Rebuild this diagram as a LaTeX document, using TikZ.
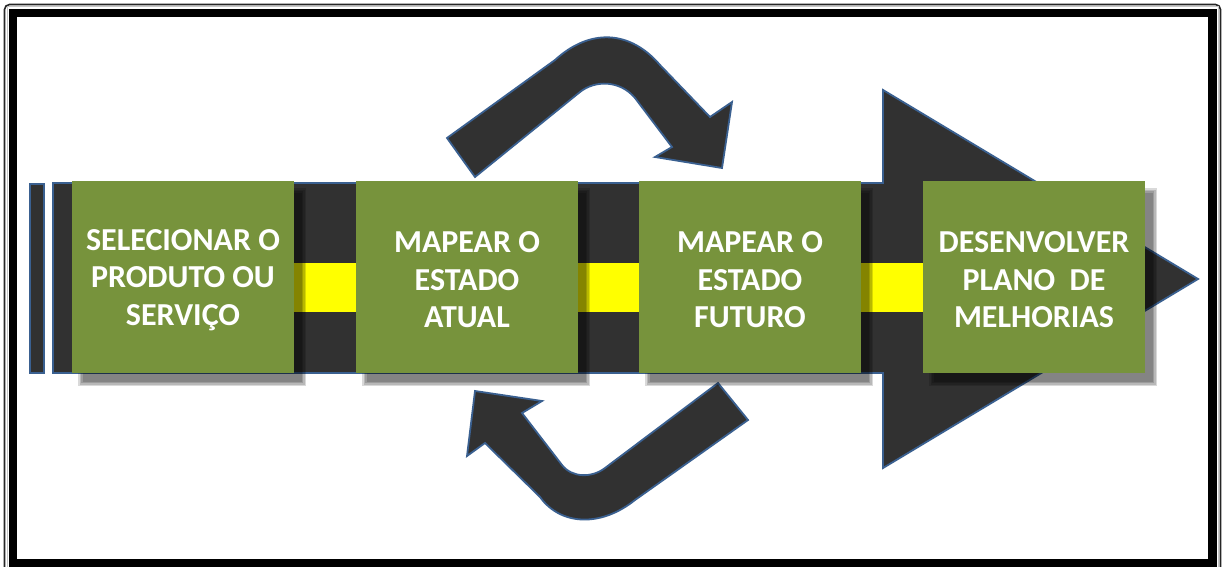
\documentclass[tikz,border=0pt]{standalone}
\usepackage{fontspec}
\setmainfont{Carlito}
\definecolor{boxgreen}{HTML}{77933C}
\definecolor{darkfill}{HTML}{313131}
\definecolor{edgeblue}{HTML}{3A6090}
\definecolor{stripe}{HTML}{FFFF00}
\begin{document}
\begin{tikzpicture}[x=1pt,y=-1pt,
  boxstyle/.style={fill=boxgreen, minimum width=222pt, minimum height=192pt, inner sep=0pt},
  labelstyle/.style={inner sep=0pt, text=white, font=\bfseries\fontsize{32}{37.5}\selectfont, align=center},
  darkshape/.style={fill=darkfill, draw=edgeblue, line width=1.8pt, line join=miter},
]
\useasboundingbox (0,0) rectangle (1223,567);
\clip (0,0) rectangle (1223,567);
\fill[white] (0,0) rectangle (1223,567);
% frame
\draw[line width=1.6pt, rounded corners=5pt, black!85] (4.5,4.5) rectangle (1220.5,590);
\draw[line width=1pt, gray!45] (7,7) rectangle (1218.3,585);
\draw[line width=8.5pt, black] (13,13) rectangle (1212.5,563.5);

% main band with arrow head
\draw[darkshape] (53,183) -- (883,183) -- (883,90) -- (1198,279) -- (883,468)
  -- (883,373) -- (53,373) -- cycle;
% left thin bar
\draw[darkshape] (30,184) rectangle (44,373);
% yellow stripe
\fill[stripe] (294,263) rectangle (923,312);

% top curved arrow
\draw[darkshape] (447,138) -- (555,60) .. controls (590,28) and (630,30) .. (660,65)
  -- (710,117) -- (732,102) -- (722,168) -- (655,157) -- (672,147)
  -- (635,98) .. controls (620,80) and (595,80) .. (580,92) -- (475,177) -- cycle;

% bottom curved arrow
\draw[darkshape] (748,420) -- (635,500) .. controls (600,528) and (560,525) .. (540,497)
  -- (485,443) -- (467,456) -- (475,391) -- (542,401) -- (522,413)
  -- (562,465) .. controls (572,478) and (592,478) .. (605,468) -- (718,383) -- cycle;

% box shadows
\foreach \cx in {183,467,750,1034}{
  \foreach \i in {0,1,2,3}{
    \fill[black, opacity=0.15] ({\cx-111+6+1.5*\i},{181+7+1.5*\i}) rectangle ({\cx+111+12-1.5*\i},{373+13-1.5*\i});
  }
}

% boxes
\node[boxstyle] (b1) at (183,277) {};
\node[boxstyle] (b2) at (467,277) {};
\node[boxstyle] (b3) at (750,277) {};
\node[boxstyle] (b4) at (1034,277) {};
\node[labelstyle] (t1) at ([yshift=-3pt]b1.center) {SELECIONAR O\\PRODUTO OU\\SERVIÇO};
\node[labelstyle] (t2) at ([yshift=-3pt]b2.center) {MAPEAR O\\ESTADO\\ATUAL};
\node[labelstyle] (t3) at ([yshift=-3pt]b3.center) {MAPEAR O\\ESTADO\\FUTURO};
\node[labelstyle] (t4) at ([yshift=-3pt]b4.center) {DESENVOLVER\\PLANO\ \ DE\\MELHORIAS};
\end{tikzpicture}
\end{document}
